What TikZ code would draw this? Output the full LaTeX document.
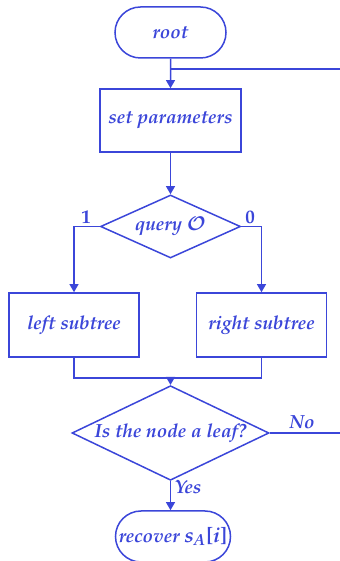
\documentclass[tikz,border=0pt]{standalone}
\usepackage[T1]{fontenc}
\usepackage{amsmath}
\usepackage{mathpazo}
\usepackage{bm}
\usepackage{tikz}
\usetikzlibrary{arrows.meta,shapes.geometric,shapes.misc}
\definecolor{flow}{HTML}{3B46D9}

\begin{document}
\begin{tikzpicture}[x=0.5pt,y=0.5pt,line width=0.75pt,font=\fontsize{9.5}{11}\selectfont\bfseries\itshape,
 terminal/.style={rounded rectangle,draw=flow,text=flow,minimum width=55.5pt,minimum height=25.5pt,inner sep=0pt},
 stepbox/.style={rectangle,draw=flow,text=flow,minimum height=32pt,inner sep=0pt},
 test/.style={diamond,draw=flow,text=flow,inner sep=0pt,aspect=2},
 tag/.style={text=flow,inner sep=1pt},
 line/.style={draw=flow},
 arrow/.style={draw=flow,-{Triangle[length=4pt,width=4.4pt]}}]
\useasboundingbox (0,0) rectangle (340,561);
% start, setup and the oracle query
\node[terminal] (root) at (170.5,528.5) {root};
\node[stepbox,minimum width=70.5pt,minimum height=31.5pt] (set) at (170.5,440.5) {set parameters};
\node[test,minimum width=70pt,minimum height=31.5pt] (query) at (170.5,334.5) {query {\boldmath$\bm{\mathcal{O}}$}};
\coordinate (junc) at (170.5,492);
\draw[arrow] (root) -- (set);
\draw[arrow] (set) -- (query);
% the two branches
\node[stepbox,minimum width=65pt] (left) at (74,236) {left subtree};
\node[stepbox,minimum width=65pt] (right) at (261.5,236) {right subtree};
\node[tag,font=\fontsize{9.5}{11}\selectfont\bfseries] (one) at (86,344) {1};
\node[tag,font=\fontsize{9.5}{11}\selectfont\bfseries] (zero) at (250,344) {0};
\draw[arrow] (query.west) -| (left.north);
\draw[arrow] (query.east) -| (right.north);
\coordinate (merge) at (170.5,183);
\draw[line] (left.south) |- (merge);
\draw[line] (right.south) |- (merge);
% leaf test, the way back up and the end
\node[test,minimum width=98.5pt,minimum height=38pt] (leaf) at (170.5,128) {Is the node a leaf?};
\node[terminal,minimum width=57.5pt] (recover) at (173,24.5) {recover {\fontsize{10.5}{12}\selectfont s\textsubscript{A}\textup{[}i\textup{]}}};
\node[tag] (no) at (302,139) {No};
\node[tag] (yes) at (188,74) {Yes};
\draw[arrow] (merge) -- (leaf.north);
\draw[arrow] (leaf.south) -- (recover.north -| leaf.south);
\draw[line] (leaf.east) -- ++(100,0) |- (junc);
\end{tikzpicture}
\end{document}
